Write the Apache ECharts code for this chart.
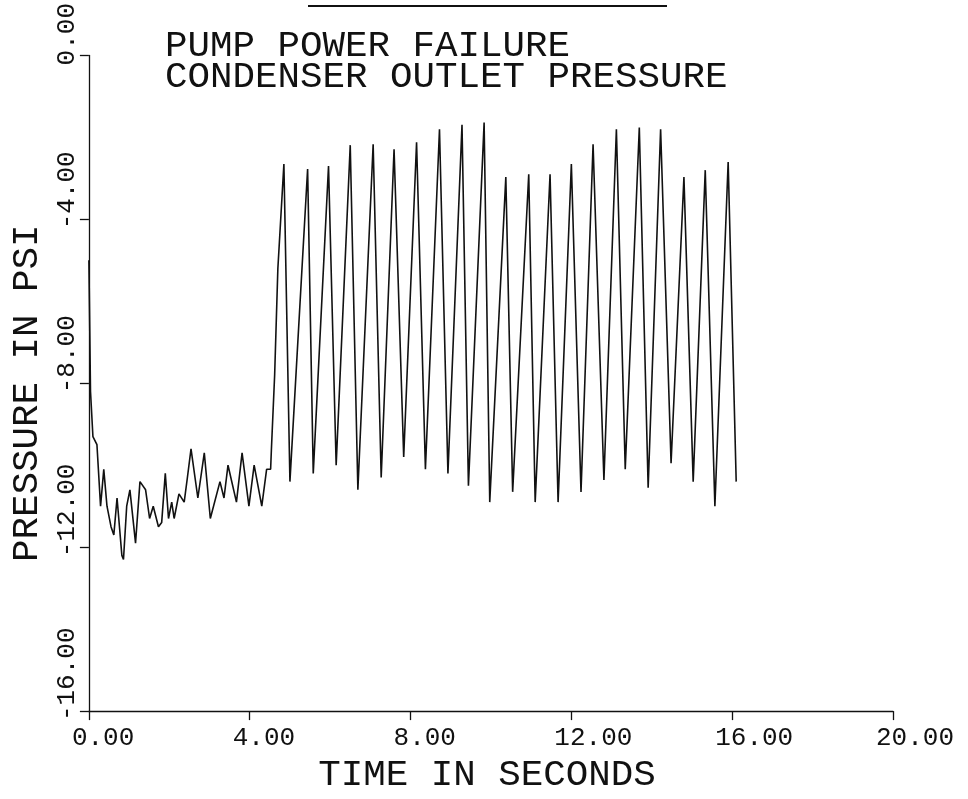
<html>
  <head>
    <meta charset="utf-8">
    <title>Pump power failure</title>
    <script src="https://cdn.jsdelivr.net/npm/echarts@6.0.0/dist/echarts.min.js"></script>
    <style>
      html, body { margin: 0; padding: 0; background: #fff; }
      #main { width: 968px; height: 799px; }
    </style>
  </head>
  <body>
    <div id="main"></div>
    <script type="text/javascript">
      // values (time in s, pressure in psi)
      var timeSec = [
        0.00, 0.04, 0.10, 0.20, 0.29, 0.37, 0.45, 0.55, 0.62, 0.70,
        0.82, 0.86, 0.94, 1.02, 1.16, 1.27, 1.41, 1.51, 1.60, 1.73,
        1.81, 1.90, 1.98, 2.06, 2.12, 2.24, 2.37, 2.45, 2.54, 2.71,
        2.87, 3.02, 3.26, 3.36, 3.46, 3.67, 3.81, 3.98, 4.11, 4.30,
        4.42, 4.52, 4.54, 4.62, 4.70, 4.85, 5.00, 5.44, 5.58, 5.96,
        6.15, 6.50, 6.69, 7.07, 7.27, 7.59, 7.83, 8.15, 8.37, 8.72,
        8.93, 9.28, 9.44, 9.83, 9.97, 10.37, 10.54, 10.94, 11.10, 11.47,
        11.67, 12.00, 12.24, 12.54, 12.81, 13.12, 13.34, 13.69, 13.91, 14.22,
        14.48, 14.80, 15.03, 15.33, 15.57, 15.90, 16.10
      ];
      var pressurePsi = [
        -5.0, -8.2, -9.3, -9.5, -11.0, -10.1, -11.0, -11.5, -11.7, -10.8,
        -12.2, -12.3, -11.0, -10.6, -11.9, -10.4, -10.6, -11.3, -11.0, -11.5,
        -11.4, -10.2, -11.3, -10.9, -11.3, -10.7, -10.9, -10.3, -9.6, -10.8,
        -9.7, -11.3, -10.4, -10.8, -10.0, -10.9, -9.7, -11.0, -10.0, -11.0,
        -10.1, -10.1, -9.6, -7.8, -5.2, -2.65, -10.4, -2.77, -10.2, -2.7,
        -10.0, -2.19, -10.6, -2.17, -10.3, -2.29, -9.8, -2.12, -10.1, -1.8,
        -10.2, -1.69, -10.5, -1.64, -10.9, -2.97, -10.65, -2.9, -10.9, -2.9,
        -10.9, -2.65, -10.65, -2.17, -10.36, -1.8, -10.1, -1.76, -10.55, -1.8,
        -9.95, -2.97, -10.4, -2.8, -11.0, -2.6, -10.4
      ];
      var xTicks = [0, 20, 4];   // min, max, step
      var yTicks = [-16, 0, 4];

      var pts = timeSec.map(function (t, i) { return [t, pressurePsi[i]]; });
      var font = 'Liberation Mono';

      var chart = echarts.init(document.getElementById('main'));
      var option = {
        backgroundColor: '#fff',
        animation: false,
        title: {
          text: 'PUMP POWER FAILURE\nCONDENSER OUTLET PRESSURE',
          left: 160,
          top: 26,
          textStyle: {
            fontFamily: font, fontSize: 37.5, fontWeight: 'normal',
            color: '#111', lineHeight: 31
          }
        },
        grid: { left: 77, right: 75, top: 55, bottom: 80, containLabel: false },
        xAxis: {
          type: 'value',
          min: xTicks[0], max: xTicks[1], interval: xTicks[2],
          name: 'TIME IN SECONDS',
          nameLocation: 'middle',
          nameGap: 38,
          nameTextStyle: { fontFamily: font, fontSize: 37.5, color: '#111', padding: [0, 8, 0, 0] },
          axisLine: { onZero: false, lineStyle: { color: '#111', width: 1.3 } },
          axisTick: { length: 9, lineStyle: { color: '#111', width: 1.3 } },
          splitLine: { show: false },
          axisLabel: {
            margin: 14,
            formatter: function (v) { return '{a|' + v.toFixed(2) + '}'; },
            rich: { a: { width: 34, align: 'left', fontFamily: font, fontSize: 26, color: '#111' } }
          }
        },
        yAxis: {
          type: 'value',
          min: yTicks[0], max: yTicks[1], interval: yTicks[2],
          name: 'PRESSURE IN PSI',
          nameLocation: 'middle',
          nameGap: 38,
          nameTextStyle: { fontFamily: font, fontSize: 37.5, color: '#111', padding: [0, 20, 0, 0] },
          axisLine: { onZero: false, lineStyle: { color: '#111', width: 1.3 } },
          axisTick: { length: 9, lineStyle: { color: '#111', width: 1.3 } },
          splitLine: { show: false },
          axisLabel: {
            rotate: 90,
            margin: 9,
            formatter: function (v) { return '{a|' + v.toFixed(2) + '}'; },
            rich: { a: { width: 20, align: 'left', fontFamily: font, fontSize: 26, color: '#111' } }
          }
        },
        graphic: [{
          type: 'line',
          shape: { x1: 308, y1: 6, x2: 667, y2: 6 },
          style: { stroke: '#111', lineWidth: 2 }
        }],
        series: [{
          type: 'line',
          data: pts,
          showSymbol: false,
          lineStyle: { color: '#111', width: 1.6 }
        }]
      };
      chart.setOption(option);
    </script>
  </body>
</html>
